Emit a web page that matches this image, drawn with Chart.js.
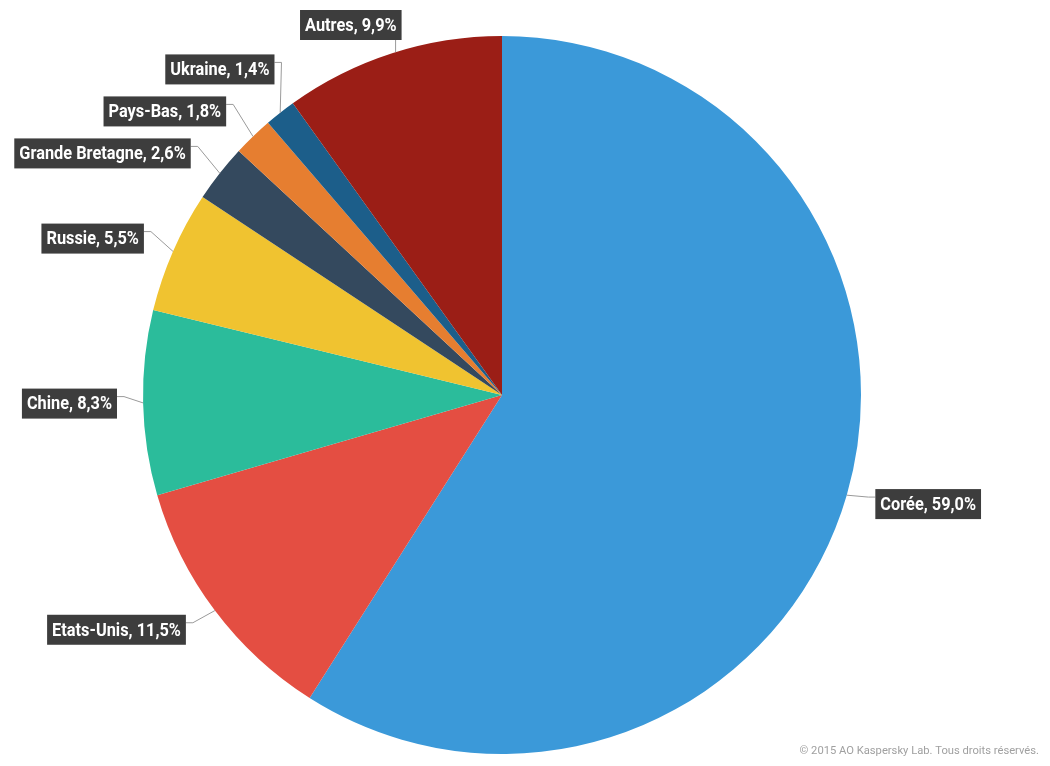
<!DOCTYPE html>
<html>
<head>
<meta charset="utf-8">
<script src="https://cdn.jsdelivr.net/npm/chart.js@4/dist/chart.umd.min.js"></script>
<style>
  html, body { margin: 0; padding: 0; background: #ffffff; }
  #wrap { position: relative; width: 1050px; height: 766px; }
</style>
</head>
<body>
<div id="wrap"><canvas id="c"></canvas></div>
<script>
const categories = ['Corée', 'Etats-Unis', 'Chine', 'Russie', 'Grande Bretagne', 'Pays-Bas', 'Ukraine', 'Autres'];
const shares = [59.0, 11.5, 8.3, 5.5, 2.6, 1.8, 1.4, 9.9];
const sliceColors = ['#3b99d9', '#e44e42', '#2bbc9b', '#f0c330', '#34495e', '#e67e30', '#1c5e8a', '#9b1e16'];
const footnote = '© 2015 AO Kaspersky Lab. Tous droits réservés.';

const LABEL_FONT = 'bold 19px "Roboto", "Liberation Sans", sans-serif';
const CONDENSE = 0.86;

function fmt(v) { return v.toFixed(1).replace('.', ',') + '%'; }

const outLabels = {
  id: 'outLabels',
  afterDatasetsDraw(chart) {
    const ctx = chart.ctx;
    const meta = chart.getDatasetMeta(0);
    const gap = 42, boxH = 30, padX = 5;
    const items = [];
    let cx = 0, cy = 0, r = 0;
    meta.data.forEach((arc, i) => {
      const p = arc.getProps(['x', 'y', 'startAngle', 'endAngle', 'outerRadius'], true);
      cx = p.x; cy = p.y; r = p.outerRadius;
      const mid = (p.startAngle + p.endAngle) / 2;
      items.push({
        i, mid,
        ax: p.x + r * Math.cos(mid), ay: p.y + r * Math.sin(mid),
        side: Math.cos(mid) >= 0 ? 'right' : 'left',
        ty: p.y + (r + 32) * Math.sin(mid),
        text: categories[i] + ', ' + fmt(shares[i])
      });
    });
    const minY = 25, maxY = chart.height - 25;
    ['left', 'right'].forEach(side => {
      const arr = items.filter(d => d.side === side).sort((a, b) => a.ty - b.ty);
      if (!arr.length) return;
      arr.forEach(d => d.y = d.ty);
      arr[arr.length - 1].y = Math.min(arr[arr.length - 1].y, maxY);
      for (let k = arr.length - 2; k >= 0; k--) arr[k].y = Math.min(arr[k].y, arr[k + 1].y - gap);
      arr[0].y = Math.max(arr[0].y, minY);
      for (let k = 1; k < arr.length; k++) arr[k].y = Math.max(arr[k].y, arr[k - 1].y + gap);
    });
    const R = r + 26;
    ctx.save();
    ctx.font = LABEL_FONT;
    items.forEach(d => {
      const tw = ctx.measureText(d.text).width * CONDENSE;
      const bw = tw + padX * 2;
      const top = d.y - boxH / 2, bottom = d.y + boxH / 2;
      const dir = d.side === 'left' ? -1 : 1;
      let bx, path;
      if (d.ty < cy - r) {
        const dy = d.y - cy;
        const dx = Math.sqrt(Math.max(0, R * R - dy * dy));
        const lx = cx + dir * dx;
        bx = lx - dir * 6;
        const ey = cy - Math.sqrt(Math.max(0, r * r - (lx - cx) * (lx - cx)));
        path = [[lx, bottom], [lx, ey]];
      } else {
        const yEval = Math.min(Math.max(cy, top), bottom);
        const dy = yEval - cy;
        const dx = Math.sqrt(Math.max(0, R * R - dy * dy));
        bx = cx + dir * dx;
        const ly = top + 8;
        path = [[bx, ly], [bx - dir * 7, ly], [d.ax, d.ay]];
      }
      ctx.strokeStyle = '#9a9a9a';
      ctx.lineWidth = 1;
      ctx.beginPath();
      path.forEach((pt, k) => k ? ctx.lineTo(pt[0], pt[1]) : ctx.moveTo(pt[0], pt[1]));
      ctx.stroke();
      const x0 = d.side === 'left' ? bx - bw : bx;
      ctx.fillStyle = '#3d3d3d';
      ctx.fillRect(x0, top, bw, boxH);
      ctx.save();
      ctx.translate(x0 + padX, d.y + 1);
      ctx.scale(CONDENSE, 1);
      ctx.fillStyle = '#ffffff';
      ctx.textAlign = 'left';
      ctx.textBaseline = 'middle';
      ctx.fillText(d.text, 0, 0);
      ctx.restore();
    });
    ctx.font = '11.2px "Roboto", "Liberation Sans", sans-serif';
    ctx.fillStyle = '#a0a0a0';
    ctx.textAlign = 'right';
    ctx.textBaseline = 'middle';
    ctx.fillText(footnote, 1039, 751);
    ctx.restore();
  }
};

new Chart(document.getElementById('c'), {
  type: 'pie',
  data: {
    labels: categories,
    datasets: [{
      data: shares,
      backgroundColor: sliceColors,
      borderWidth: 0
    }]
  },
  options: {
    responsive: true,
    maintainAspectRatio: false,
    animation: false,
    events: [],
    layout: { padding: { left: 143, right: 189, top: 36, bottom: 12 } },
    plugins: { legend: { display: false }, tooltip: { enabled: false } }
  },
  plugins: [outLabels]
});
</script>
</body>
</html>
